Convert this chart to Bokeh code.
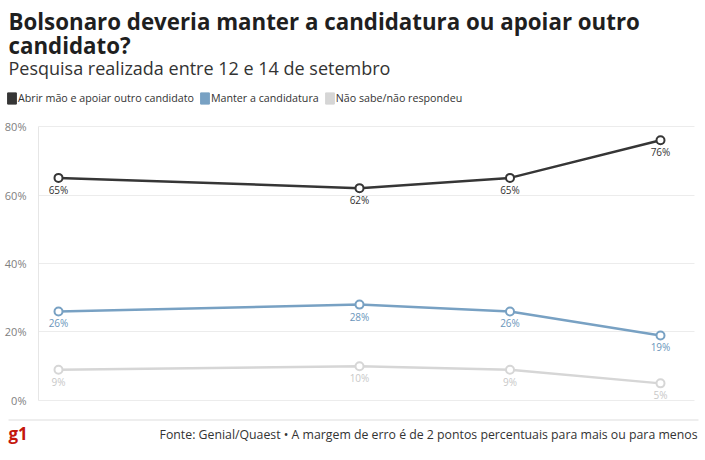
from bokeh.plotting import figure
from bokeh.models import (ColumnDataSource, Label, Legend, LegendItem, FixedTicker, Range1d,
                          BoxAnnotation)
from bokeh.core.properties import value
from bokeh.embed import file_html
from bokeh.resources import INLINE

# ---- data ----
rodada = [0, 2, 3, 4]  # relative survey timing (months)
abrir_mao = [65, 62, 65, 76]
manter = [26, 28, 26, 19]
nao_sabe = [9, 10, 9, 5]

series_names = ["Abrir mão e apoiar outro candidato", "Manter a candidatura", "Não sabe/não respondeu"]
series_values = [abrir_mao, manter, nao_sabe]
series_colors = ["#363636", "#78a1c3", "#d6d6d6"]
label_colors = ["#333333", "#6b96bb", "#c8c8c8"]
y_ticks = [0, 20, 40, 60, 80]

title1 = "Bolsonaro deveria manter a candidatura ou apoiar outro"
title2 = "candidato?"
subtitle = "Pesquisa realizada entre 12 e 14 de setembro"
source_text = "Fonte: Genial/Quaest • A margem de erro é de 2 pontos percentuais para mais ou para menos"

FONT = "Open Sans"
W, H = 705, 460

# frame covers the whole canvas; the y axis is drawn at a fixed location inside it
p = figure(width=W, height=H, output_backend="svg", toolbar_location=None,
           x_range=Range1d(-0.3854, 4.299), y_range=Range1d(-17.52, 116.79),
           min_border_left=0, min_border_right=0, min_border_top=0, min_border_bottom=0)
p.title.text = ""
p.title.visible = False
p.outline_line_color = None
p.xaxis.visible = False
p.xgrid.visible = False

AXIS_X = -0.1329
GRID_END = 4.226
grid = p.ygrid[0]
grid.grid_line_color = "#ececec"
grid.ticker = FixedTicker(ticks=y_ticks)
if "cross_bounds" in grid.properties():
    grid.cross_bounds = (AXIS_X, GRID_END)

yax = p.yaxis[0]
yax.fixed_location = AXIS_X
yax.ticker = FixedTicker(ticks=y_ticks)
yax.bounds = (0, 80)
yax.major_label_overrides = {t: f"{t}%" for t in y_ticks}
yax.axis_line_color = "#e6e6e6"
yax.major_tick_line_color = None
yax.minor_tick_line_color = None
yax.major_label_standoff = 6
yax.major_label_text_font = FONT
yax.major_label_text_font_size = "11px"
yax.major_label_text_color = "#808080"

legend_items = []
for name, vals, col, lcol in zip(series_names, series_values, series_colors, label_colors):
    src = ColumnDataSource(dict(x=rodada, y=vals, t=[f"{v}%" for v in vals]))
    p.line("x", "y", source=src, line_color=col, line_width=2.5)
    p.scatter("x", "y", source=src, size=8, fill_color="white", line_color=col, line_width=2)
    p.text("x", "y", text="t", source=src, text_font=value(FONT), text_font_size="10px",
           text_color=lcol, text_align="center", text_baseline="top", y_offset=5)
    # legend swatch (zero-size, hidden; only its legend glyph is drawn)
    swatch = p.quad(left="x", right="x", top="y", bottom="y", source=src,
                    fill_color=col, line_color=col, visible=False)
    legend_items.append(LegendItem(label=name, renderers=[swatch]))

legend = Legend(items=legend_items, location=(6, 355), orientation="horizontal",
                label_text_font=FONT, label_text_font_size="10.7px", label_text_color="#333333",
                glyph_width=11, glyph_height=14, label_standoff=1, spacing=5,
                padding=0, margin=0, border_line_color=None, background_fill_alpha=0,
                inactive_fill_alpha=0, label_height=14)
p.add_layout(legend, "center")


def add_label(text, x, baseline, size, color="#222222", bold=False, align="left"):
    # screen units measured from the frame bottom (8px correction for text placement)
    p.add_layout(Label(x=x, y=H - baseline + 8, x_units="screen", y_units="screen", text=text,
                       text_font=FONT, text_font_size=size, text_color=color,
                       text_font_style="bold" if bold else "normal",
                       text_align=align, text_baseline="alphabetic"))


add_label(title1, 8, 29, "22.3px", color="#1f1f1f", bold=True)
add_label(title2, 8, 53, "22.3px", color="#1f1f1f", bold=True)
add_label(subtitle, 8, 75, "18px", color="#333333")
add_label("g1", 8, 441, "17px", color="#c4170c", bold=True)
add_label(source_text, 697, 442, "12.3px", color="#333333", align="right")

# separator line above the footer
p.add_layout(BoxAnnotation(left=-0.3322, right=4.2525, bottom=-5.84, top=-5.55,
                           fill_color="#dddddd", fill_alpha=1, line_color=None))

open("out.html", "w").write(file_html(p, INLINE))
